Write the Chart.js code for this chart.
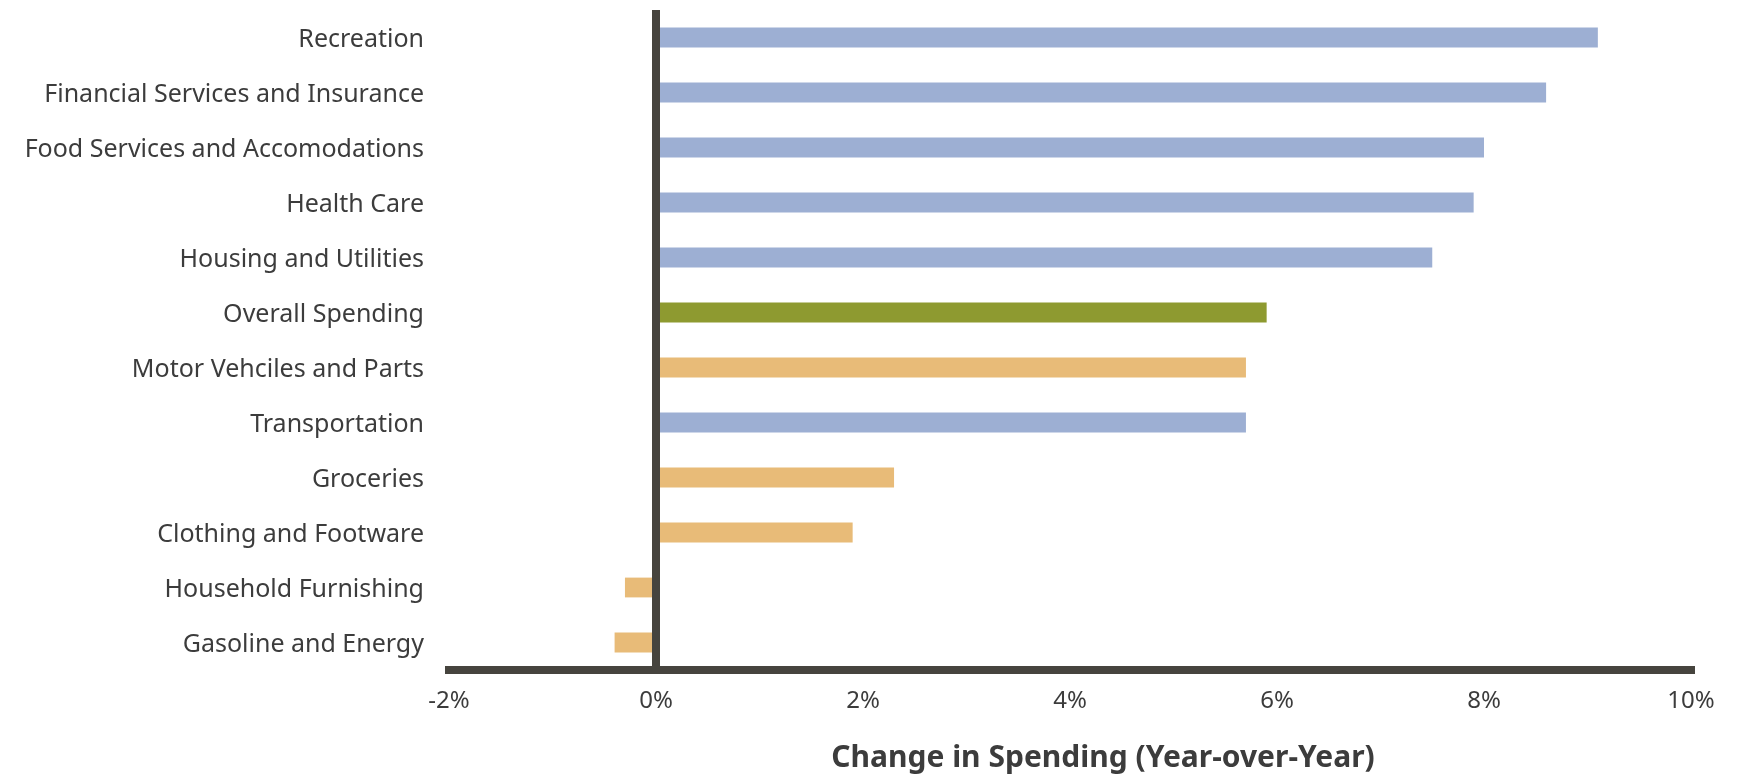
<!DOCTYPE html>
<html>
<head>
<meta charset="utf-8">
<script src="https://cdn.jsdelivr.net/npm/chart.js@4"></script>
<style>
  html, body { margin: 0; padding: 0; background: #fff; }
  #wrap { width: 1739px; height: 774px; }
</style>
</head>
<body>
<div id="wrap"><canvas id="spendChart" width="1739" height="774"></canvas></div>
<script>
// カテゴリ
const categories = [
    "Recreation",
    "Financial Services and Insurance",
    "Food Services and Accomodations",
    "Health Care",
    "Housing and Utilities",
    "Overall Spending",
    "Motor Vehciles and Parts",
    "Transportation",
    "Groceries",
    "Clothing and Footware",
    "Household Furnishing",
    "Gasoline and Energy",
];
// 前年比 (%)
const changes = [9.1, 8.6, 8.0, 7.9, 7.5, 5.9, 5.7, 5.7, 2.3, 1.9, -0.3, -0.4];
// 区分
const groups = ["services", "services", "services", "services", "services", "overall",
    "goods", "services", "goods", "goods", "goods", "goods"];
const xTicks = [-2, 0, 2, 4, 6, 8, 10];

const groupColors = { services: "#9dafd3", goods: "#e8bb78", overall: "#8e9a30" };
const axisColor = "#46443e";
const textColor = "#3c3c3c";

// 軸タイトルを少し右へずらす
const titleShift = {
    id: "titleShift",
    afterLayout(chart) {
        const s = chart.scales.x;
        if (s._shifted) return;
        const orig = s.drawTitle.bind(s);
        s.drawTitle = function () {
            this.ctx.save();
            this.ctx.translate(33, 0);
            orig();
            this.ctx.restore();
        };
        s._shifted = true;
    },
};

document.addEventListener("DOMContentLoaded", function () {
    const ctx = document.getElementById("spendChart").getContext("2d");
    new Chart(ctx, {
        type: "bar",
        data: {
            labels: categories,
            datasets: [{
                data: changes,
                backgroundColor: groups.map((g) => groupColors[g]),
                borderWidth: 0,
                categoryPercentage: 1,
                barPercentage: 0.36,
            }],
        },
        options: {
            indexAxis: "y",
            responsive: false,
            animation: false,
            layout: { padding: { top: 10, right: 48, bottom: 0, left: 0 } },
            plugins: { legend: { display: false }, tooltip: { enabled: false } },
            scales: {
                x: {
                    z: 1,
                    min: -2,
                    max: 10,
                    afterBuildTicks: (scale) => { scale.ticks = xTicks.map((v) => ({ value: v })); },
                    afterFit: (scale) => { scale.height = 104; },
                    grid: {
                        drawTicks: false,
                        color: (c) => (c.tick && c.tick.value === 0 ? axisColor : "rgba(0,0,0,0)"),
                        lineWidth: 8,
                    },
                    border: { display: true, color: axisColor, width: 8 },
                    ticks: {
                        padding: 17,
                        color: textColor,
                        font: { family: "Noto Sans", size: 24 },
                        callback: (v) => v + "%",
                    },
                    title: {
                        display: true,
                        text: "Change in Spending (Year-over-Year)",
                        color: textColor,
                        font: { family: "Noto Sans", size: 30, weight: "bold", lineHeight: 1.05 },
                        padding: { top: 0, bottom: 0 },
                    },
                },
                y: {
                    afterFit: (scale) => {
                        scale.width = 449;
                        scale.paddingTop = 0;
                        scale.paddingBottom = 0;
                    },
                    grid: { display: false, drawTicks: false },
                    border: { display: false },
                    ticks: {
                        padding: 25,
                        labelOffset: 2,
                        color: textColor,
                        font: { family: "Noto Sans", size: 25 },
                    },
                },
            },
        },
        plugins: [titleShift],
    });
});
</script>
</body>
</html>
